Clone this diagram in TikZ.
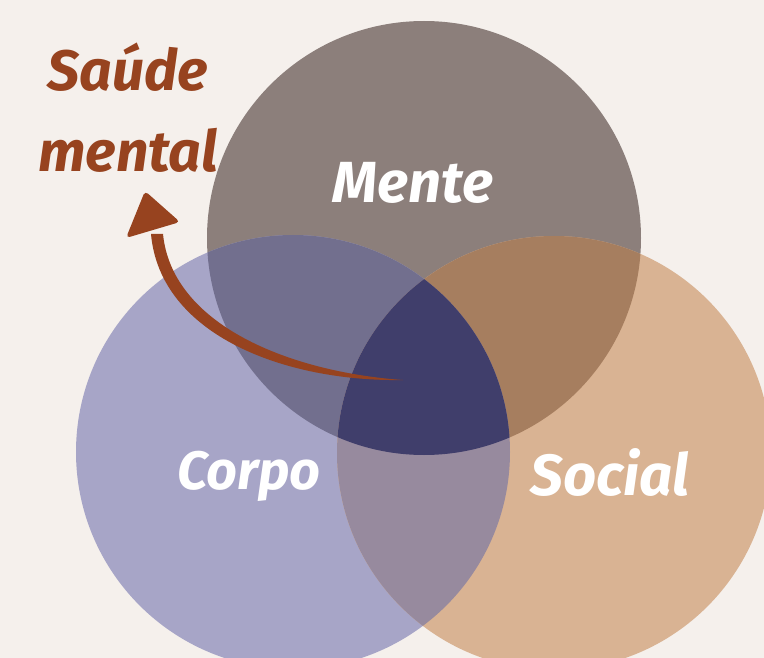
\documentclass[tikz,border=0pt]{standalone}
\usepackage{fontspec}
\setmainfont{Fira Sans}
\definecolor{bgcol}{HTML}{F5F0EC}
\definecolor{mentecol}{HTML}{8C7F7B}
\definecolor{corpocol}{HTML}{A7A5C7}
\definecolor{socialcol}{HTML}{D9B393}
\definecolor{mccol}{HTML}{726F8E}
\definecolor{mscol}{HTML}{A67E5F}
\definecolor{cscol}{HTML}{978A9E}
\definecolor{allcol}{HTML}{403E6B}
\definecolor{rust}{HTML}{97431F}
\begin{document}
\begin{tikzpicture}[x=1pt,y=-1pt,
  lbl/.style={text=white,font=\fontsize{58}{60}\selectfont\bfseries\itshape,inner sep=0pt},
  title/.style={text=rust,font=\fontsize{57}{60}\selectfont\bfseries\itshape,inner sep=0pt}]
\useasboundingbox (0,0) rectangle (764,658);
\fill[bgcol] (0,0) rectangle (764,658);
\begin{scope}
\clip (0,0) rectangle (764,658);
\def\R{217}
\fill[mentecol] (424,238) circle (\R);
\fill[corpocol] (293,452) circle (\R);
\fill[socialcol] (554,453) circle (\R);
\begin{scope}\clip (424,238) circle (\R); \fill[mccol] (293,452) circle (\R);\end{scope}
\begin{scope}\clip (424,238) circle (\R); \fill[mscol] (554,453) circle (\R);\end{scope}
\begin{scope}\clip (293,452) circle (\R); \fill[cscol] (554,453) circle (\R);\end{scope}
\begin{scope}\clip (424,238) circle (\R); \clip (293,452) circle (\R); \fill[allcol] (554,453) circle (\R);\end{scope}
\end{scope}
\node[lbl] (mente) at (413,183) {Mente};
\node[lbl,font=\fontsize{54}{56}\selectfont\bfseries\itshape] (corpo) at (249,476) {Corpo};
\node[lbl] (social) at (610,473) {Social};
\node[title] (saude) at (128,67) {Saúde};
\node[title] (mental) at (128,150) {mental};
\coordinate (tail) at (403,380);
\coordinate (hb1) at (151,234);
\coordinate (hb2) at (163,234);
\fill[rust] (tail) .. controls (285,382) and (160,335) .. (hb1) -- (hb2) .. controls (172,325) and (290,372) .. (tail) -- cycle;
\fill[rust,rounded corners=4pt] (145,191) -- (180,222) -- (126,238) -- cycle;
\end{tikzpicture}
\end{document}
